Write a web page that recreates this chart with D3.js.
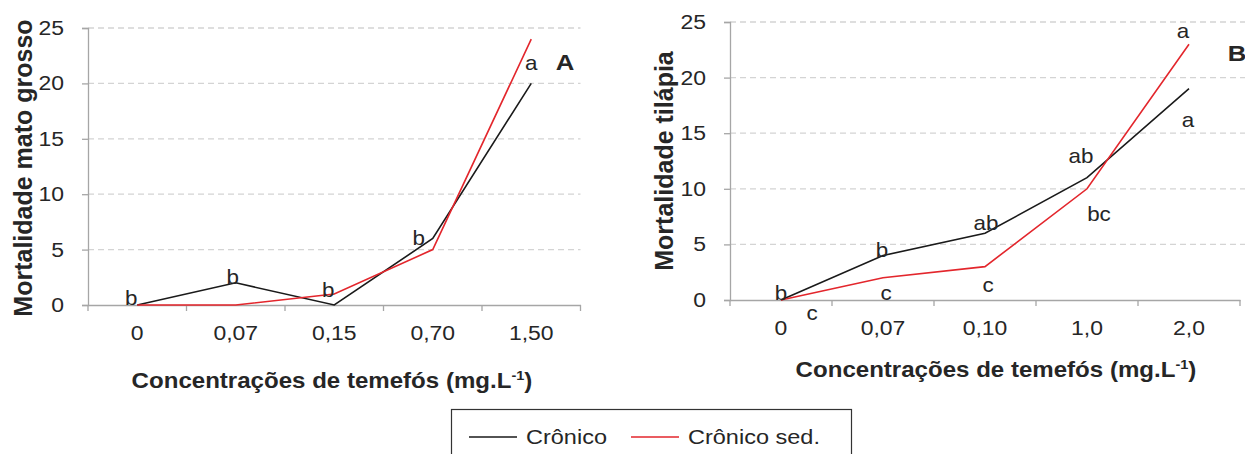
<!DOCTYPE html>
<html><head><meta charset="utf-8">
<script src="https://cdn.jsdelivr.net/npm/d3@7"></script>
<style>
body{margin:0;background:#fff;}
svg{display:block;font-family:"Liberation Sans",Arial,sans-serif;}
</style></head>
<body>
<svg id="chart" width="1245" height="454"></svg>
<script>
// ---- data ----
const categoriesA = ["0", "0,07", "0,15", "0,70", "1,50"];
const cronicoA    = [0, 2, 0, 6, 20];
const cronicoSedA = [0, 0, 1, 5, 24];
const lettersA    = ["b", "b", "b", "b", "a"];

const categoriesB = ["0", "0,07", "0,10", "1,0", "2,0"];
const cronicoB    = [0, 4, 6, 11, 19];
const cronicoSedB = [0, 2, 3, 10, 23];
const lettersCronicoB    = ["b", "b", "ab", "ab", "a"];
const lettersCronicoSedB = ["c", "c", "c", "bc", "a"];

const yTicks = [0, 5, 10, 15, 20, 25];
const seriesNames = ["Crônico", "Crônico sed."];

// ---- styles / layout ----
const BLACK = "#1a1a1a", RED = "#e3262c", AXIS = "#a6a6a6", GRID = "#d4d4d4", TXT = "#262626";
const SX = 1.12; // horizontal text stretch seen in the reference
const svg = d3.select("#chart");

function stretch(sel){
  sel.each(function(){
    const t = d3.select(this);
    const x = +t.attr("x") || 0, y = +t.attr("y") || 0;
    t.attr("transform", `translate(${x},${y}) scale(${SX},1) translate(${-x},${-y})`);
  });
}

// label pixel offsets (layout, not data)
const offA = [[-6,0],[-3,1],[-6,-8],[-14,6],[0,-13]];
const offBk = [[0,0],[-1,1.5],[1,-3],[-6,-15],[-1,38]];
const offBr = [[31,20],[3,22],[3,25],[12,32],[-6,-6]];

function panel(cfg){
  const x = d3.scaleBand().domain(cfg.categories).range([cfg.x0, cfg.x1]).padding(0);
  const y = d3.scaleLinear().domain([0, 25]).range([cfg.y0, cfg.yTop]);
  const g = svg.append("g");

  // gridlines
  g.append("g").selectAll("line").data(yTicks.filter(d => d > 0)).join("line")
    .attr("x1", cfg.x0).attr("x2", cfg.gridEnd)
    .attr("y1", d => y(d)).attr("y2", d => y(d))
    .attr("stroke", GRID).attr("stroke-width", 1.3).attr("stroke-dasharray", "6,4");

  // y axis
  const ya = g.append("g").attr("transform", `translate(${cfg.x0},0)`)
    .call(d3.axisLeft(y).tickValues(yTicks).tickSize(6).tickPadding(18));
  ya.select(".domain").attr("stroke", AXIS).attr("stroke-width", 1.3);
  ya.selectAll(".tick line").attr("stroke", AXIS).attr("stroke-width", 1.3);
  ya.selectAll(".tick text").attr("font-size", 20.5).attr("fill", TXT)
    .attr("font-family", "Liberation Sans, Arial, sans-serif").call(stretch);

  // x axis
  const xa = g.append("g").attr("transform", `translate(0,${cfg.y0})`)
    .call(d3.axisBottom(x).tickSize(0).tickPadding(20));
  xa.select(".domain").attr("stroke", AXIS).attr("stroke-width", 1.3);
  xa.selectAll(".tick text").attr("font-size", 20.5).attr("fill", TXT)
    .attr("font-family", "Liberation Sans, Arial, sans-serif").call(stretch);
  // boundary ticks
  const bounds = cfg.categories.map(c => x(c)).concat([x(cfg.categories[cfg.categories.length-1]) + x.bandwidth()]);
  g.append("g").selectAll("line").data(bounds).join("line")
    .attr("x1", d => d).attr("x2", d => d)
    .attr("y1", cfg.y0).attr("y2", cfg.y0 + 6)
    .attr("stroke", AXIS).attr("stroke-width", 1.3);

  const cx = c => x(c) + x.bandwidth() / 2;
  const line = d3.line().x((d, i) => cx(cfg.categories[i])).y(d => y(d));
  g.append("path").attr("d", line(cfg.black)).attr("fill", "none").attr("stroke", BLACK).attr("stroke-width", 1.6);
  g.append("path").attr("d", line(cfg.red)).attr("fill", "none").attr("stroke", RED).attr("stroke-width", 1.6);

  // letters
  cfg.labels.forEach(L => {
    g.append("g").selectAll("text").data(L.letters).join("text")
      .attr("x", (d, i) => cx(cfg.categories[i]) + L.off[i][0])
      .attr("y", (d, i) => y(L.values[i]) + L.off[i][1])
      .attr("text-anchor", "middle").attr("font-size", 20).attr("fill", TXT)
      .text(d => d).call(stretch);
  });

  // axis titles
  g.append("text").attr("x", cfg.xTitleX).attr("y", cfg.xTitleY).attr("text-anchor", "middle")
    .attr("font-size", 21.5).attr("font-weight", "bold").attr("fill", TXT)
    .call(t => {
      t.append("tspan").text("Concentrações de temefós (mg.L");
      t.append("tspan").attr("font-size", 13).attr("dy", -8).text("-1");
      t.append("tspan").attr("dy", 8).text(")");
    }).call(stretch);
  g.append("text").attr("transform", `translate(${cfg.yTitleX},${cfg.yTitleY}) rotate(-90)`)
    .attr("text-anchor", "middle").attr("font-size", 25).attr("font-weight", "bold").attr("fill", TXT)
    .text(cfg.yTitle);

  g.append("text").attr("x", cfg.tagX).attr("y", cfg.tagY).attr("text-anchor", "middle")
    .attr("font-size", 23).attr("font-weight", "bold").attr("fill", TXT).text(cfg.tag).call(stretch);
}

panel({
  categories: categoriesA, black: cronicoA, red: cronicoSedA,
  x0: 88, x1: 580.5, gridEnd: 580.5, y0: 305, yTop: 28,
  labels: [{letters: lettersA, values: cronicoA, off: offA}],
  xTitleX: 332, xTitleY: 388, yTitleX: 32, yTitleY: 168, yTitle: "Mortalidade mato grosso",
  tag: "A", tagX: 565, tagY: 70
});
panel({
  categories: categoriesB, black: cronicoB, red: cronicoSedB,
  x0: 730, x1: 1240, gridEnd: 1245, y0: 300, yTop: 22,
  labels: [{letters: lettersCronicoB, values: cronicoB, off: offBk},
           {letters: lettersCronicoSedB, values: cronicoSedB, off: offBr}],
  xTitleX: 996, xTitleY: 377, yTitleX: 673, yTitleY: 161, yTitle: "Mortalidade tilápia",
  tag: "B", tagX: 1237, tagY: 61
});

// legend
const lg = svg.append("g");
lg.append("rect").attr("x", 451.5).attr("y", 409.5).attr("width", 400).attr("height", 60)
  .attr("fill", "#fff").attr("stroke", "#333").attr("stroke-width", 1.2);
const legendItems = [{name: seriesNames[0], color: BLACK, x: 469}, {name: seriesNames[1], color: RED, x: 631}];
legendItems.forEach(it => {
  lg.append("line").attr("x1", it.x).attr("x2", it.x + 48).attr("y1", 437).attr("y2", 437)
    .attr("stroke", it.color).attr("stroke-width", 1.6);
  lg.append("text").attr("x", it.x + 57).attr("y", 444.5).attr("font-size", 21).attr("fill", TXT)
    .text(it.name).call(stretch);
});
</script>
</body></html>
